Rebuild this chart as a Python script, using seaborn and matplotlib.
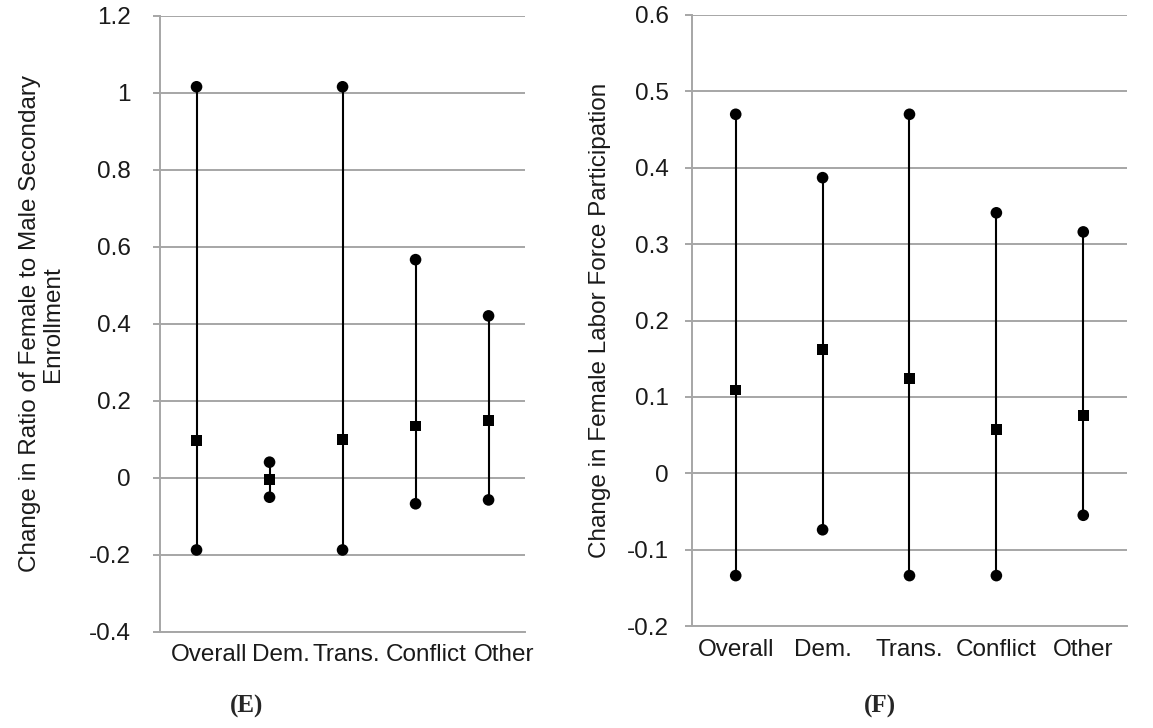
import numpy as np
import pandas as pd
import matplotlib
matplotlib.use("Agg")
import matplotlib.pyplot as plt
import matplotlib.transforms as mtransforms
import seaborn as sns

categories = ["Overall", "Dem.", "Trans.", "Conflict", "Other"]

# Panel E: ratio of female to male secondary enrollment
e_high = [1.016, 0.041, 1.016, 0.567, 0.421]
e_mid = [0.098, -0.005, 0.100, 0.135, 0.149]
e_low = [-0.187, -0.050, -0.187, -0.067, -0.057]

# Panel F: female labor force participation
f_high = [0.470, 0.387, 0.470, 0.341, 0.316]
f_mid = [0.109, 0.162, 0.124, 0.057, 0.076]
f_low = [-0.134, -0.074, -0.134, -0.134, -0.055]

e_ticks = [-0.4, -0.2, 0, 0.2, 0.4, 0.6, 0.8, 1, 1.2]
f_ticks = [-0.2, -0.1, 0, 0.1, 0.2, 0.3, 0.4, 0.5, 0.6]

sns.set_theme(style="white")
plt.rcParams["font.family"] = ["Liberation Sans", "DejaVu Sans"]

GRID = "#a6a6a6"
FS = 17.5


def make_df(high, mid, low):
    rows = []
    for c, h, m, l in zip(categories, high, mid, low):
        rows.append({"cat": c, "val": h, "kind": "high"})
        rows.append({"cat": c, "val": m, "kind": "mid"})
        rows.append({"cat": c, "val": l, "kind": "low"})
    df = pd.DataFrame(rows)
    df["x"] = df["cat"].map({c: i for i, c in enumerate(categories)})
    return df


def draw(ax, df, ticks, ylabel, ypad):
    sns.lineplot(data=df[df.kind != "mid"], x="x", y="val", units="cat",
                 estimator=None, color="black", lw=1.5, ax=ax, sort=False)
    sns.scatterplot(data=df[df.kind != "mid"], x="x", y="val", marker="o",
                    color="black", s=70, edgecolor="none", ax=ax, zorder=5)
    sns.scatterplot(data=df[df.kind == "mid"], x="x", y="val", marker="s",
                    color="black", s=62, edgecolor="none", ax=ax, zorder=6)
    ax.set_xlim(-0.5, len(categories) - 0.5)
    ax.set_ylim(ticks[0], ticks[-1])
    ax.set_yticks(ticks)
    ax.set_yticklabels([f"{t:g}" for t in ticks])
    ax.set_xticks(range(len(categories)))
    ax.set_xticklabels(categories)
    ax.yaxis.grid(True, color=GRID, lw=1.4)
    ax.set_axisbelow(True)
    for s in ["top", "right"]:
        ax.spines[s].set_visible(False)
    for s in ["left", "bottom"]:
        ax.spines[s].set_color(GRID)
        ax.spines[s].set_linewidth(1.4)
    ax.tick_params(axis="y", which="major", direction="out", length=5,
                   width=1.4, color=GRID, labelsize=FS, pad=ypad,
                   labelcolor="#1a1a1a", left=True)
    ax.tick_params(axis="x", length=0, labelsize=FS, pad=9,
                   labelcolor="#1a1a1a")
    ax.set_xlabel("")
    ax.set_ylabel(ylabel, fontsize=FS, color="#1a1a1a", linespacing=1.05)


fig = plt.figure(figsize=(11.53, 7.28), dpi=100)
axE = fig.add_axes([0.1388, 0.1319, 0.3166, 0.8462])
axF = fig.add_axes([0.6004, 0.1401, 0.3768, 0.8393])

draw(axE, make_df(e_high, e_mid, e_low), e_ticks,
     "Change in Ratio of Female to Male Secondary\nEnrollment", 16)
draw(axF, make_df(f_high, f_mid, f_low), f_ticks,
     "Change in Female Labor Force Participation", 12)

# packed labels in panel E are shifted slightly right, as in the original
shifts_px = [13, 11, 4, 11, 16]
for lab, dx in zip(axE.get_xticklabels(), shifts_px):
    lab.set_transform(lab.get_transform() +
                      mtransforms.ScaledTranslation(dx / 100, 0, fig.dpi_scale_trans))

axE.yaxis.set_label_coords(-0.263, 0.5)
axF.yaxis.set_label_coords(-0.188, 0.5)

fig.text(247 / 1153, 1 - 706 / 728, "(E)", ha="center", va="center",
         fontsize=18, fontweight="bold", family="Liberation Serif")
fig.text(880 / 1153, 1 - 706 / 728, "(F)", ha="center", va="center",
         fontsize=18, fontweight="bold", family="Liberation Serif")

fig.savefig("out.png", dpi=100)
